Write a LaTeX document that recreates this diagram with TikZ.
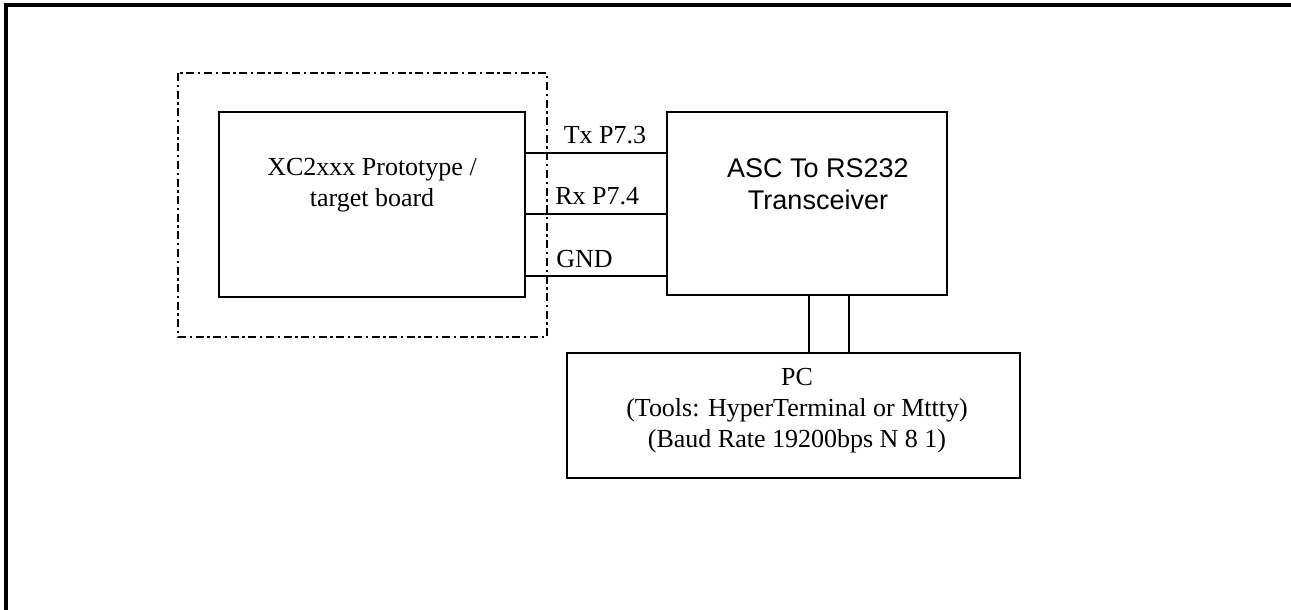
\documentclass[tikz,border=0pt]{standalone}
\usepackage{fontspec}
\setmainfont{Liberation Serif}
\newfontfamily\arialfont{Liberation Sans}
\usetikzlibrary{positioning}
\tikzset{
  blockbox/.style={draw,line width=0.6pt,rectangle,inner sep=0pt},
  wire/.style={line width=0.6pt},
  boardedge/.style={line width=1.4pt,dash pattern=on 4pt off 1.8pt on 1.2pt off 1.8pt},
  txt/.style={inner sep=0pt,align=center,font=\fontsize{13}{15.5}\selectfont}
}
\begin{document}
\begin{tikzpicture}[x=0.5pt,y=-0.5pt]
\useasboundingbox (0,0) rectangle (1291,610);
% page frame, only top and left visible
\draw[line width=1.6pt] (6,610) -- (6,5) -- (1291,5);

% target board area
\draw[boardedge] (178,73) rectangle (547,337);
\node[blockbox,minimum width=153pt,minimum height=92.5pt] (board) at (372,204.5) {};
\node[txt] (boardtext) at (372,185) {XC2xxx Prototype /\\target board};

\node[blockbox,minimum width=140pt,minimum height=91.5pt] (trx) at (807,203.5) {};
\node[txt,font=\arialfont\fontsize{13.5}{16}\selectfont] (trxtext) at (818,184) {ASC To RS232\\Transceiver};

\node[blockbox,minimum width=226.5pt,minimum height=62.5pt] (pc) at (793.5,415.5) {};
\node[txt] (pctext) at (797,411) {PC\\(Tools: HyperTerminal or Mttty)\\(Baud Rate 19200bps N 8 1)};

% serial lines
\draw[wire] (board.east |- 0,153) -- (trx.west |- 0,153);
\draw[wire] (board.east |- 0,214) -- (trx.west |- 0,214);
\draw[wire] (board.east |- 0,276) -- (trx.west |- 0,276);
\node[txt,anchor=base] (txlabel) at (605,144) {Tx P7.3};
\node[txt,anchor=base west] (rxlabel) at (555,205) {Rx P7.4};
\node[txt,anchor=base west] (gndlabel) at (556,267) {GND};

% cable to PC
\draw[wire] (trx.south -| 809,0) -- (pc.north -| 809,0);
\draw[wire] (trx.south -| 849,0) -- (pc.north -| 849,0);
\end{tikzpicture}
\end{document}
